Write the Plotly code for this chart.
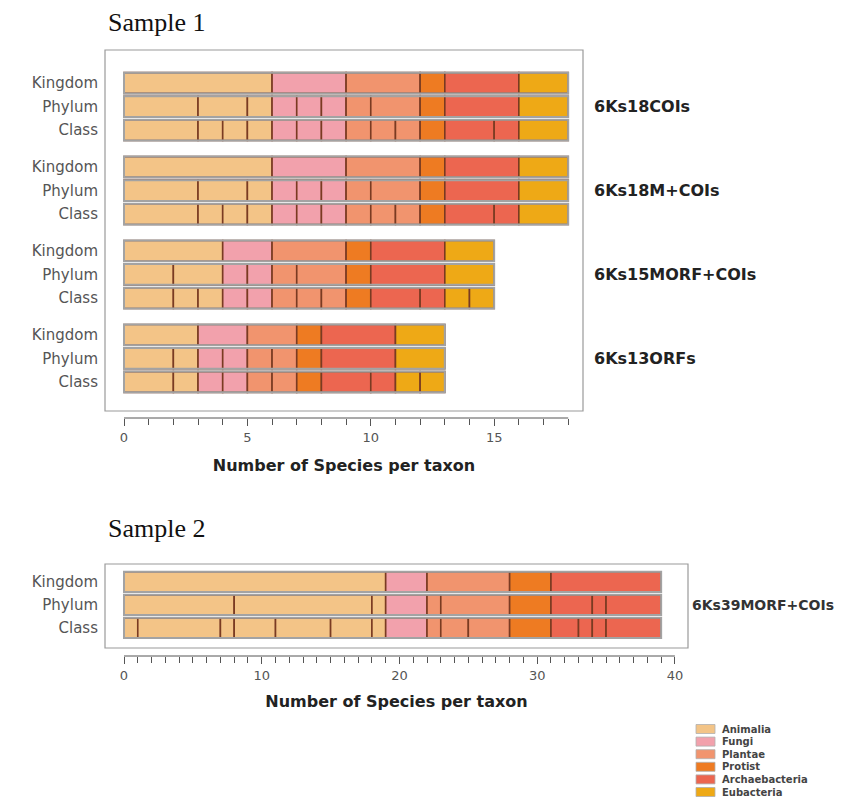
import plotly.graph_objects as go

# The page body has an 8px margin, so the figure is drawn from (8, 8)
OFF = 8
W, H = 850 - OFF, 800 - OFF


def px(x):
    return (x - OFF) / W


def py(y):
    return 1 - (y - OFF) / H


categories = ["Animalia", "Fungi", "Plantae", "Protist", "Archaebacteria", "Eubacteria"]
colors = ["#F3C487", "#F2A1AC", "#F1946E", "#EE7B22", "#EC6650", "#EEA916"]
levels = ["Kingdom", "Phylum", "Class"]

# Segment sizes (number of species per taxon) for each category, per taxonomic level
# Sample 1
g18COIs_kingdom = [[6], [3], [3], [1], [3], [2]]
g18COIs_phylum = [[3, 2, 1], [1, 1, 1], [1, 2], [1], [3], [2]]
g18COIs_class = [[3, 1, 1, 1], [1, 1, 1], [1, 1, 1], [1], [2, 1], [2]]

g18MCOIs_kingdom = [[6], [3], [3], [1], [3], [2]]
g18MCOIs_phylum = [[3, 2, 1], [1, 1, 1], [1, 2], [1], [3], [2]]
g18MCOIs_class = [[3, 1, 1, 1], [1, 1, 1], [1, 1, 1], [1], [2, 1], [2]]

g15MORF_kingdom = [[4], [2], [3], [1], [3], [2]]
g15MORF_phylum = [[2, 2], [1, 1], [1, 2], [1], [3], [2]]
g15MORF_class = [[2, 1, 1], [1, 1], [1, 1, 1], [1], [2, 1], [1, 1]]

g13ORF_kingdom = [[3], [2], [2], [1], [3], [2]]
g13ORF_phylum = [[2, 1], [1, 1], [1, 1], [1], [3], [2]]
g13ORF_class = [[2, 1], [1, 1], [1, 1], [1], [2, 1], [1, 1]]

sample1_groups = ["6Ks18COIs", "6Ks18M+COIs", "6Ks15MORF+COIs", "6Ks13ORFs"]
sample1_data = [
    [g18COIs_kingdom, g18COIs_phylum, g18COIs_class],
    [g18MCOIs_kingdom, g18MCOIs_phylum, g18MCOIs_class],
    [g15MORF_kingdom, g15MORF_phylum, g15MORF_class],
    [g13ORF_kingdom, g13ORF_phylum, g13ORF_class],
]

# Sample 2
g39MORF_kingdom = [[19], [3], [6], [3], [8], []]
g39MORF_phylum = [[8, 10, 1], [3], [1, 5], [3], [3, 1, 4], []]
g39MORF_class = [[1, 6, 1, 3, 4, 3, 1], [3], [1, 2, 3], [3], [2, 1, 1, 4], []]

sample2_groups = ["6Ks39MORF+COIs"]
sample2_data = [[g39MORF_kingdom, g39MORF_phylum, g39MORF_class]]

# x-axis extents (axis line / minor ticks span 0..max)
sample1_axis_max = 18
sample2_axis_max = 40

SANS = "DejaVu Sans"
SERIF = "Liberation Serif"
GROUP_STEP = 3.56
BAR_W = 0.88

fig = go.Figure()


def add_sample(groups_data, xa, ya):
    for ci, cat in enumerate(categories):
        xs, bases, ys = [], [], []
        for gi, gdata in enumerate(groups_data):
            for li, lev in enumerate(gdata):
                yv = gi * GROUP_STEP + li
                start = sum(sum(s) for s in lev[:ci])
                for seg in lev[ci]:
                    xs.append(seg)
                    bases.append(start)
                    ys.append(yv)
                    start += seg
        if xs:
            fig.add_trace(go.Bar(
                orientation="h", x=xs, base=bases, y=ys, width=BAR_W,
                marker=dict(color=colors[ci], line=dict(color="#7A3B22", width=1.6)),
                name=cat, showlegend=False, xaxis=xa, yaxis=ya, hoverinfo="skip",
            ))
    ox, oy = [], []
    for gi, gdata in enumerate(groups_data):
        for li, lev in enumerate(gdata):
            ox.append(sum(sum(s) for s in lev))
            oy.append(gi * GROUP_STEP + li)
    fig.add_trace(go.Bar(
        orientation="h", x=ox, base=[0] * len(ox), y=oy, width=BAR_W,
        marker=dict(color="rgba(0,0,0,0)", line=dict(color="#A3A3A3", width=2)),
        showlegend=False, xaxis=xa, yaxis=ya, hoverinfo="skip",
    ))
    return oy


oy1 = add_sample(sample1_data, "x", "y")
oy2 = add_sample(sample2_data, "x2", "y2")

tick_font = dict(family=SANS, size=13, color="#555555")
title_font = dict(family=SANS, size=16, color="#222222")
ylab_font = dict(family=SANS, size=15, color="#555555")

pos1 = py(418)
pos2 = py(656)

common_x = dict(
    ticks="outside", ticklen=7, tickwidth=1, tickcolor="#555555",
    showgrid=False, zeroline=False, showline=False, tickfont=tick_font,
    anchor="free", automargin=False,
)

fig.update_layout(
    width=W, height=H, template="none",
    paper_bgcolor="white", plot_bgcolor="white",
    margin=dict(l=0, r=0, t=0, b=0),
    barmode="overlay", showlegend=False,
    xaxis=dict(
        domain=[px(105), px(583)], range=[-0.77, 18.6], position=pos1,
        tick0=0, dtick=5,
        minor=dict(tickmode="array", tickvals=list(range(0, sample1_axis_max + 1)),
                   ticks="outside", ticklen=6, tickcolor="#555555", showgrid=False),
        title=dict(text="<b>Number of Species per taxon</b>", font=title_font, standoff=16),
        **common_x,
    ),
    yaxis=dict(
        domain=[py(411), py(50)], anchor="x",
        range=[3 * GROUP_STEP + 2 + 1.23, -1.40],
        tickvals=oy1, ticktext=levels * len(sample1_data),
        ticks="", showgrid=False, zeroline=False, showline=False,
        tickfont=ylab_font, ticklabelstandoff=6, automargin=False,
    ),
    xaxis2=dict(
        domain=[px(105), px(688)], range=[-1.38, 40.95], position=pos2,
        tick0=0, dtick=10,
        minor=dict(tickmode="array", tickvals=list(range(0, sample2_axis_max + 1)),
                   ticks="outside", ticklen=6, tickcolor="#555555", showgrid=False),
        title=dict(text="<b>Number of Species per taxon</b>", font=title_font, standoff=14),
        **common_x,
    ),
    yaxis2=dict(
        domain=[py(648), py(564)], anchor="x2",
        range=[2 + 0.87, -0.78],
        tickvals=oy2, ticktext=levels * len(sample2_data),
        ticks="", showgrid=False, zeroline=False, showline=False,
        tickfont=ylab_font, ticklabelstandoff=6, automargin=False,
    ),
)

shapes = []
for xr, yr in [("x domain", "y domain"), ("x2 domain", "y2 domain")]:
    shapes.append(dict(type="rect", xref=xr, yref=yr, x0=0, x1=1, y0=0, y1=1,
                       line=dict(color="#9A9A9A", width=1.2), fillcolor="rgba(0,0,0,0)"))
shapes.append(dict(type="line", xref="x", yref="paper", x0=0, x1=sample1_axis_max, y0=pos1, y1=pos1,
                   line=dict(color="#555555", width=1)))
shapes.append(dict(type="line", xref="x2", yref="paper", x0=0, x1=sample2_axis_max, y0=pos2, y1=pos2,
                   line=dict(color="#555555", width=1)))

annotations = []
for gi, name in enumerate(sample1_groups):
    annotations.append(dict(text="<b>%s</b>" % name, x=px(592), xref="paper", xanchor="left",
                            y=gi * GROUP_STEP + 1, yref="y", yanchor="middle", showarrow=False,
                            font=dict(family=SANS, size=16, color="#222222")))
for gi, name in enumerate(sample2_groups):
    annotations.append(dict(text="<b>%s</b>" % name, x=px(690), xref="paper", xanchor="left",
                            y=gi * GROUP_STEP + 1, yref="y2", yanchor="middle", showarrow=False,
                            font=dict(family=SANS, size=14, color="#333333")))
annotations.append(dict(text="Sample 1", x=px(107), y=py(23), xref="paper", yref="paper",
                        xanchor="left", yanchor="middle", showarrow=False, borderpad=0,
                        font=dict(family=SERIF, size=26, color="#111111")))
annotations.append(dict(text="Sample 2", x=px(107), y=py(528), xref="paper", yref="paper",
                        xanchor="left", yanchor="middle", showarrow=False, borderpad=0,
                        font=dict(family=SERIF, size=26, color="#111111")))

leg_x0, leg_y0, leg_step = 696, 729, 12.6
for i, (cat, col) in enumerate(zip(categories, colors)):
    yc = leg_y0 + i * leg_step
    shapes.append(dict(type="rect", xref="paper", yref="paper",
                       x0=px(leg_x0), x1=px(leg_x0 + 19),
                       y0=py(yc + 4.5), y1=py(yc - 4.5),
                       fillcolor=col, line=dict(color="#B0B0B0", width=0.8)))
    annotations.append(dict(text="<b>%s</b>" % cat, x=px(leg_x0 + 24), y=py(yc),
                            xref="paper", yref="paper", xanchor="left", yanchor="middle",
                            showarrow=False, font=dict(family=SANS, size=10, color="#444444")))

fig.update_layout(shapes=shapes, annotations=annotations)

fig.write_html("out.html")
